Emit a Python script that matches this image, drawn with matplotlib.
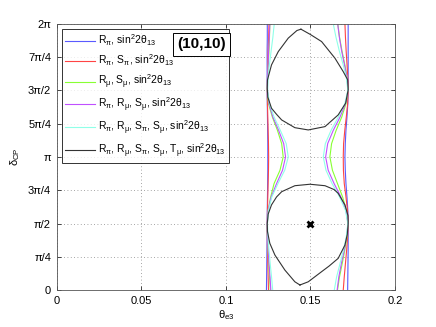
#!/usr/bin/env python3
"""Allowed region in (theta_e3, delta_CP) for (10,10) configuration."""
import numpy as np
import matplotlib
matplotlib.use('Agg')
import matplotlib.pyplot as plt

plt.rcParams.update({
    'font.family': ['Liberation Sans', 'DejaVu Sans'],
    'font.size': 8,
    'mathtext.fontset': 'custom',
    'mathtext.rm': 'Liberation Sans',
    'mathtext.it': 'Liberation Sans',
    'mathtext.bf': 'Liberation Sans:bold',
    'mathtext.default': 'regular',
})

# --- delta_CP sample points (units of pi) for the colored contours ---
delta_pi = [0.0, 0.1, 0.2, 0.3, 0.4, 0.5, 0.6, 0.7, 0.8, 0.9, 1.0,
            1.1, 1.2, 1.3, 1.4, 1.5, 1.6, 1.7, 1.8, 1.9, 2.0]

# left / right branch theta_e3 values of each contour
blue_left = [0.1240, 0.1241, 0.1242, 0.1243, 0.1244, 0.1244, 0.1245, 0.1246, 0.1247, 0.1248, 0.1248,
             0.1248, 0.1247, 0.1246, 0.1245, 0.1244, 0.1244, 0.1244, 0.1244, 0.1245, 0.1245]
blue_right = [0.1720, 0.1721, 0.1722, 0.1723, 0.1723, 0.1723, 0.1721, 0.1716, 0.1710, 0.1706, 0.1704,
              0.1706, 0.1710, 0.1716, 0.1721, 0.1723, 0.1723, 0.1723, 0.1723, 0.1723, 0.1723]
red_left = [0.1252, 0.1250, 0.1248, 0.1246, 0.1245, 0.1245, 0.1246, 0.1248, 0.1250, 0.1252, 0.1253,
            0.1252, 0.1250, 0.1248, 0.1246, 0.1245, 0.1246, 0.1248, 0.1250, 0.1253, 0.1255]
red_right = [0.1694, 0.1700, 0.1707, 0.1714, 0.1720, 0.1723, 0.1719, 0.1710, 0.1700, 0.1695, 0.1694,
             0.1696, 0.1703, 0.1712, 0.1720, 0.1723, 0.1721, 0.1716, 0.1711, 0.1707, 0.1704]
green_left = [0.1263, 0.1258, 0.1253, 0.1249, 0.1246, 0.1245, 0.1250, 0.1265, 0.1285, 0.1320, 0.1339,
              0.1330, 0.1305, 0.1275, 0.1252, 0.1245, 0.1247, 0.1251, 0.1255, 0.1258, 0.1260]
green_right = [0.1660, 0.1672, 0.1688, 0.1703, 0.1716, 0.1722, 0.1712, 0.1690, 0.1660, 0.1630, 0.1615,
               0.1625, 0.1652, 0.1685, 0.1710, 0.1722, 0.1717, 0.1702, 0.1686, 0.1672, 0.1662]
purple_left = [0.1266, 0.1261, 0.1255, 0.1250, 0.1247, 0.1245, 0.1250, 0.1268, 0.1300, 0.1335, 0.1353,
               0.1342, 0.1312, 0.1278, 0.1255, 0.1246, 0.1247, 0.1250, 0.1253, 0.1257, 0.1260]
purple_right = [0.1658, 0.1668, 0.1683, 0.1700, 0.1714, 0.1722, 0.1710, 0.1680, 0.1640, 0.1605, 0.1590,
                0.1602, 0.1635, 0.1675, 0.1707, 0.1722, 0.1716, 0.1700, 0.1684, 0.1671, 0.1661]
cyan_left = [0.1277, 0.1270, 0.1262, 0.1255, 0.1249, 0.1246, 0.1252, 0.1272, 0.1308, 0.1348, 0.1369,
             0.1357, 0.1322, 0.1285, 0.1258, 0.1247, 0.1250, 0.1258, 0.1268, 0.1278, 0.1286]
cyan_right = [0.1641, 0.1655, 0.1675, 0.1695, 0.1712, 0.1721, 0.1707, 0.1672, 0.1628, 0.1592, 0.1576,
              0.1588, 0.1622, 0.1665, 0.1703, 0.1721, 0.1712, 0.1692, 0.1670, 0.1651, 0.1635]

# black contour: two closed islands (theta_e3, delta/pi)
low_theta = [0.1438, 0.1408, 0.1349, 0.1290, 0.1260, 0.1246, 0.1245, 0.1250, 0.1270, 0.1300, 0.1330,
             0.1408, 0.1497, 0.1586, 0.1640, 0.1664, 0.1704, 0.1722, 0.1723, 0.1718, 0.1704, 0.1664,
             0.1610, 0.1566, 0.1487, 0.1438]
low_delta = [0.038, 0.062, 0.150, 0.263, 0.351, 0.440, 0.500, 0.570, 0.640, 0.700, 0.739,
             0.784, 0.795, 0.784, 0.755, 0.727, 0.640, 0.560, 0.500, 0.420, 0.338, 0.238,
             0.180, 0.138, 0.062, 0.038]
high_theta = [0.1444, 0.1500, 0.1566, 0.1645, 0.1694, 0.1720, 0.1723, 0.1708, 0.1664, 0.1586, 0.1487,
              0.1408, 0.1330, 0.1300, 0.1270, 0.1248, 0.1245, 0.1246, 0.1270, 0.1310, 0.1369, 0.1420,
              0.1444]
high_delta = [1.960, 1.920, 1.867, 1.742, 1.641, 1.580, 1.504, 1.404, 1.316, 1.228, 1.203,
              1.220, 1.278, 1.320, 1.366, 1.450, 1.517, 1.579, 1.692, 1.792, 1.893, 1.950,
              1.960]

true_theta, true_delta = 0.15, 0.5

labels = [r'R$_\pi$, sin$^2$2$\theta_{13}$',
          r'R$_\pi$, S$_\pi$, sin$^2$2$\theta_{13}$',
          r'R$_\mu$, S$_\mu$, sin$^2$2$\theta_{13}$',
          r'R$_\pi$, R$_\mu$, S$_\mu$, sin$^2$2$\theta_{13}$',
          r'R$_\pi$, R$_\mu$, S$_\pi$, S$_\mu$, sin$^2$2$\theta_{13}$',
          r'R$_\pi$, R$_\mu$, S$_\pi$, S$_\mu$, T$_\mu$, sin$^2$2$\theta_{13}$']
colors = ['#5a5aff', '#ff4444', '#88ff33', '#c050ff', '#90ffe8', '#333333']

branches = [(blue_left, blue_right), (red_left, red_right), (green_left, green_right),
            (purple_left, purple_right), (cyan_left, cyan_right)]

fig = plt.figure(figsize=(4.36, 3.27), dpi=100)
ax = fig.add_axes([0.130, 0.113, 0.776, 0.814])

d = np.array(delta_pi) * np.pi
for (left, right), c, lab in zip(branches, colors, labels):
    ax.plot(left, d, color=c, lw=0.8, label=lab)
    ax.plot(right, d, color=c, lw=0.8)

ax.plot(low_theta, np.array(low_delta) * np.pi, color=colors[5], lw=0.8, label=labels[5])
ax.plot(high_theta, np.array(high_delta) * np.pi, color=colors[5], lw=0.8)

ax.plot(true_theta, true_delta * np.pi, 'x', color='black', ms=4, mew=2)

ax.set_xlim(0, 0.2)
ax.set_ylim(0, 2 * np.pi)
ax.set_xticks([0, 0.05, 0.1, 0.15, 0.2])
ax.set_xticklabels(['0', '0.05', '0.1', '0.15', '0.2'])
ax.set_yticks(np.arange(9) * np.pi / 4)
ax.set_yticklabels(['0', 'π/4', 'π/2', '3π/4', 'π', '5π/4', '3π/2', '7π/4', '2π'])
ax.tick_params(direction='in', length=3, width=0.5, top=True, right=True, pad=4)
ax.grid(True, linestyle=(0, (1, 3)), color='#888888', linewidth=0.6)
for s in ax.spines.values():
    s.set_linewidth(0.6)
    s.set_color('#555555')

ax.set_xlabel(r'$\theta_{e3}$', fontsize=8, labelpad=2)
ax.set_ylabel(r'$\delta_{CP}$', fontsize=8, labelpad=4)

leg = ax.legend(loc='upper left', bbox_to_anchor=(0.015, 0.981), borderaxespad=0,
                fontsize=7.5, frameon=True, fancybox=False, handlelength=2.8,
                labelspacing=0.45, borderpad=0.35, handletextpad=0.3)
leg.get_frame().set_edgecolor('black')
leg.get_frame().set_linewidth(0.7)

ax.text(0.428, 0.924, '(10,10)', transform=ax.transAxes, ha='center', va='center',
        fontsize=11, fontweight='bold', zorder=10,
        bbox=dict(boxstyle='square,pad=0.3', facecolor='white', edgecolor='black', linewidth=0.7))

fig.savefig('out.png', dpi=100)
plt.close(fig)
